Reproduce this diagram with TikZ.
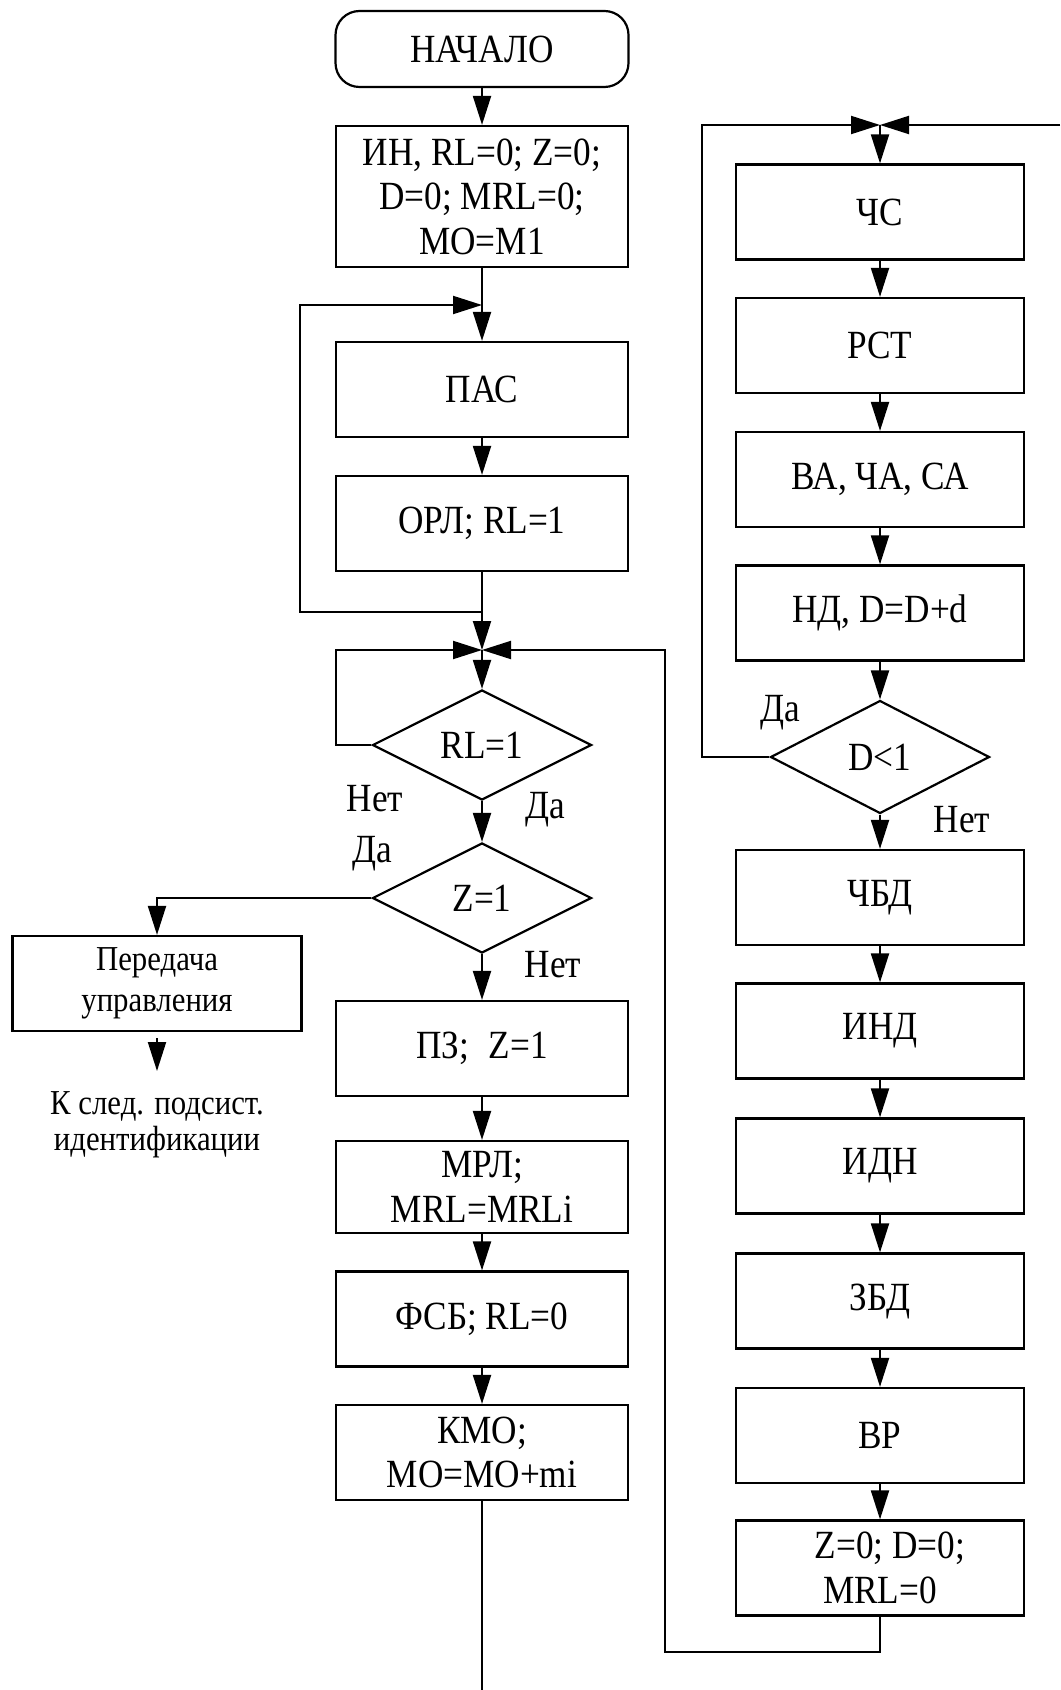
\documentclass[tikz,border=0pt]{standalone}
\usepackage{fontspec}
\setmainfont{Liberation Serif}[FakeStretch=0.88]
\usetikzlibrary{shapes.geometric,arrows.meta}

\tikzset{
  blok/.style={draw, line width=1.1pt, minimum width=146pt, minimum height=47.5pt,
    inner sep=0pt, align=center, font=\fontsize{20}{22.3}\selectfont},
  romb/.style={diamond, draw, line width=1.1pt, minimum width=109.5pt,
    minimum height=55pt, inner sep=0pt, font=\fontsize{20}{22.3}\selectfont},
  metka/.style={inner sep=0pt, font=\fontsize{20}{22}\selectfont},
  melk/.style={inner sep=0pt, align=center, font=\fontsize{17.5}{20.5}\selectfont},
  seta/.style={-{Triangle[length=14.5pt,width=9pt]}, line width=1pt},
  linha/.style={line width=1pt},
}

\begin{document}
\begin{tikzpicture}[x=0.5pt, y=-0.5pt]
  \useasboundingbox (0,0) rectangle (1060,1690);

  % Левая колонка
  \node[blok, rounded corners=12pt, minimum width=146.5pt, minimum height=38pt] (nachalo) at (482,49) {НАЧАЛО};
  \node[blok, minimum height=70.5pt] (in) at (482,196.5) {ИН, RL=0; Z=0;\\D=0; MRL=0;\\MO=M1};
  \node[blok] (pas) at (482,389.5) {ПАС};
  \node[blok] (orl) at (482,523.5) {ОРЛ; RL=1};
  \node[romb] (rl) at (482,745) {RL=1};
  \node[romb] (z) at (482,898) {Z=1};
  \node[blok] (pz) at (482,1048.5) {ПЗ;\; Z=1};
  \node[blok, minimum height=46pt] (mrl) at (482,1187) {МРЛ;\\MRL=MRLi};
  \node[blok] (fsb) at (482,1319) {ФСБ; RL=0};
  \node[blok] (kmo) at (482,1452.5) {КМО;\\MO=MO+mi};

  % Передача управления
  \node[blok, minimum width=144.5pt, font=\fontsize{17.5}{20.5}\selectfont] (per) at (157,983.5) {Передача\\управления};
  \node[melk, font=\fontsize{17.5}{18}\selectfont] (sled) at (157,1125) {К след. подсист.\\идентификации};

  % Правая колонка
  \node[blok, minimum width=144pt] (chs) at (880,212) {ЧС};
  \node[blok, minimum width=144pt] (rst) at (880,345.5) {РСТ};
  \node[blok, minimum width=144pt] (va) at (880,479.5) {ВА, ЧА, СА};
  \node[blok, minimum width=144pt] (nd) at (880,613) {НД, D=D+d};
  \node[romb, minimum height=56.5pt] (d) at (880,757) {D<1};
  \node[blok, minimum width=144pt] (chbd) at (880,897.5) {ЧБД};
  \node[blok, minimum width=144pt] (ind) at (880,1031) {ИНД};
  \node[blok, minimum width=144pt] (idn) at (880,1166) {ИДН};
  \node[blok, minimum width=144pt] (zbd) at (880,1301) {ЗБД};
  \node[blok, minimum width=144pt] (vr) at (880,1435.5) {ВР};
  \node[blok, minimum width=144pt] (zo) at (880,1568) {\hspace*{10pt}Z=0; D=0;\\MRL=0};

  % Подписи
  \node[metka] (net1) at (375,799) {Нет};
  \node[metka] (da1) at (545,810) {Да};
  \node[metka] (da2) at (372,854) {Да};
  \node[metka] (net2) at (553,965) {Нет};
  \node[metka] (da3) at (780,713) {Да};
  \node[metka] (net3) at (962,820) {Нет};

  % Узлы и точки соединений
  \coordinate (j1) at (482,305);
  \coordinate (j2) at (482,650);
  \coordinate (j3) at (880,125);
  \coordinate (vozv) at (300,612);
  \coordinate (rlv) at (336,650);
  \coordinate (niz) at (665,1652);
  \coordinate (dlev) at (702,125);
  \coordinate (vhod) at (1060,125);
  \coordinate (vyhod) at (482,1690);
  \coordinate (vniz) at (157,1071);

  % Связи
  \draw[seta] (nachalo) -- (in);
  \draw[seta] (in) -- (pas);
  \draw[seta] (pas) -- (orl);
  \draw[seta] (orl) -- (j2);
  \draw[seta] (orl.south |- vozv) -- (vozv) |- (j1);
  \draw[seta] (j2) -- (rl);
  \draw[seta] (rl.west) -| (rlv) -- (j2);
  \draw[seta] (rl) -- (z);
  \draw[seta] (z.west) -| (per);
  \draw[seta] ([yshift=-3pt]per.south) -- (vniz);
  \draw[seta] (z) -- (pz);
  \draw[seta] (pz) -- (mrl);
  \draw[seta] (mrl) -- (fsb);
  \draw[seta] (fsb) -- (kmo);
  \draw[linha] (kmo) -- (vyhod);

  \draw[seta] (vhod) -- (j3);
  \draw[seta] (j3) -- (chs);
  \draw[seta] (chs) -- (rst);
  \draw[seta] (rst) -- (va);
  \draw[seta] (va) -- (nd);
  \draw[seta] (nd) -- (d);
  \draw[seta] (d.west) -| (dlev) -- (j3);
  \draw[seta] (d) -- (chbd);
  \draw[seta] (chbd) -- (ind);
  \draw[seta] (ind) -- (idn);
  \draw[seta] (idn) -- (zbd);
  \draw[seta] (zbd) -- (vr);
  \draw[seta] (vr) -- (zo);
  \draw[seta] (zo.south) |- (niz) |- (j2);
\end{tikzpicture}
\end{document}
